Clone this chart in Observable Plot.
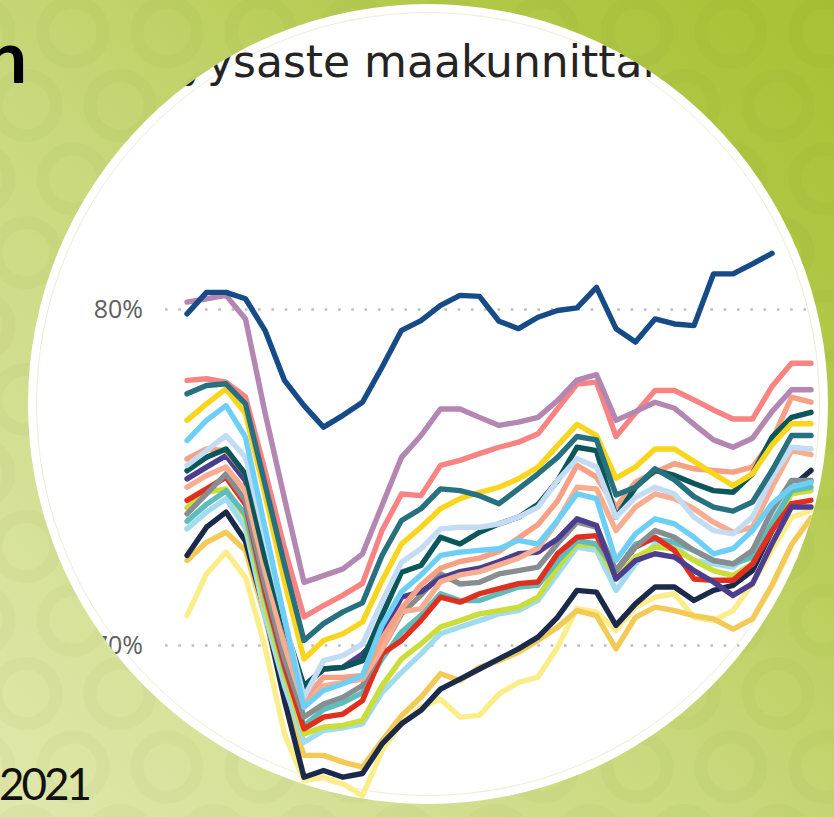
<!DOCTYPE html>
<html>
<head>
<meta charset="utf-8">
<script src="https://cdn.jsdelivr.net/npm/d3@7"></script>
<script src="https://cdn.jsdelivr.net/npm/@observablehq/plot@0.6"></script>
<style>
  html, body { margin: 0; padding: 0; width: 834px; height: 817px; overflow: hidden; }
  body {
    position: relative;
    background-color: #c6d676;
    background-image:
      radial-gradient(circle at center, transparent 0 23px, rgba(95,115,20,0.045) 24px 36px, transparent 37px),
      radial-gradient(circle at center, transparent 0 23px, rgba(95,115,20,0.045) 24px 36px, transparent 37px),
      linear-gradient(45deg, #e0e8ad 0%, #c9d87c 45%, #b3c94a 75%, #a8c035 100%);
    background-size: 94px 147px, 94px 147px, 100% 100%;
    background-position: 26px -41.5px, 73px 32px, 0 0;
  }
  #disc {
    position: absolute; left: 0; top: 0; width: 834px; height: 880px;
    background: #ffffff;
    clip-path: circle(400px at 428px 404px);
  }
  #rim {
    position: absolute; left: 36px; top: 12px; width: 784px; height: 784px;
    border-radius: 50%; border: 1px solid rgba(215,205,150,0.4); box-sizing: border-box;
  }
  #chart { position: absolute; left: 0; top: 0; }
  #title {
    position: absolute; top: 40px; left: 0;
    font-family: "DejaVu Sans", sans-serif; font-size: 44px; line-height: 44px;
    color: #252423; white-space: nowrap;
  }
  #slideTitle {
    position: absolute; top: 19px; left: -14px;
    font-family: Lato, sans-serif; font-weight: 700; font-size: 73px; line-height: 73px;
    color: #000; white-space: nowrap;
  }
  #slideYear {
    position: absolute; top: 761px; left: -1px;
    font-family: Lato, sans-serif; font-size: 44px; line-height: 44px; letter-spacing: -3px;
    color: #111; white-space: nowrap;
  }
</style>
</head>
<body>
<div id="slideTitle">n</div>
<div id="slideYear">2021</div>
<div id="disc">
  <div id="rim"></div>
  <div id="chart"></div>
  <div id="title"><span id="titlePre">Työllisyy</span><span>saste maakunnittain</span></div>
</div>
<script>
// Years on the x axis
const years = [1989,1990,1991,1992,1993,1994,1995,1996,1997,1998,1999,2000,2001,2002,2003,2004,2005,2006,2007,2008,2009,2010,2011,2012,2013,2014,2015,2016,2017,2018,2019,2020,2021];

// Y axis tick values (%)
const yTicks = [70, 80];

// Employment rate series (%), one array per region
const kainuu = [70.89,72.13,72.78,72.03,69.95,67.37,65.98,66.08,65.88,65.53,66.87,67.67,68.16,68.4,67.87,67.92,68.56,68.9,69.06,69.95,71.1,71.0,70.45,71.14,71.44,71.54,70.84,70.74,71.04,71.84,72.83,73.82,74.02];
const lappi = [72.53,73.07,73.37,72.83,70.84,68.46,66.73,66.73,66.53,66.38,67.17,67.91,68.46,69.16,68.96,69.35,69.55,69.8,70.15,70.54,71.04,70.89,69.9,70.84,71.14,71.04,70.89,70.79,70.49,70.79,71.8,73.0,73.8];
const pohjoisKarjala = [72.68,73.52,73.97,73.1,71.0,68.36,66.08,66.28,66.08,66.19,67.07,67.67,68.07,68.7,69.0,69.3,69.6,69.9,70.25,70.84,71.64,71.59,70.6,71.24,71.74,71.74,71.34,71.64,71.79,72.23,73.42,74.71,75.21];
const etelaKarjala = [73.47,73.97,74.37,73.5,70.9,68.8,67.12,67.47,67.55,67.67,68.6,69.2,69.75,70.35,70.55,70.74,70.94,71.04,71.34,72.13,72.93,72.83,71.64,72.43,73.02,72.93,72.53,72.43,72.33,72.83,73.82,74.76,74.81];
const pohjoisSavo = [74.1,74.56,74.66,73.8,71.2,69.1,67.37,67.57,67.62,67.77,68.8,69.6,70.05,70.55,70.74,70.94,71.04,71.14,71.44,72.33,73.02,72.97,72.03,72.63,72.93,72.88,72.53,72.23,72.08,72.43,73.52,74.51,74.61];
const kymenlaakso = [73.7,74.2,74.6,73.9,71.5,69.3,67.6,68.1,68.3,68.6,69.6,70.4,70.9,71.54,71.34,71.34,71.54,71.74,71.79,72.5,73.12,73.02,72.23,73.02,73.17,73.07,72.83,72.53,72.43,72.63,73.62,74.61,74.71];
const etelaSavo = [74.32,74.66,75.01,74.2,71.6,69.4,67.52,67.87,67.96,68.36,69.75,70.15,70.75,71.44,71.29,71.54,71.69,71.84,71.89,72.73,73.22,73.27,72.23,72.93,73.22,72.83,71.98,71.94,71.94,72.43,73.42,74.22,74.32];
const pohjoisPohjanmaa = [73.92,74.51,75.11,74.3,71.8,69.6,67.87,68.26,68.46,68.81,69.9,70.94,71.5,72.13,71.83,71.88,72.13,72.23,72.33,73.03,73.67,73.52,72.23,72.93,73.42,73.22,72.83,72.53,72.43,72.83,74.02,74.91,74.91];
const keskiSuomi = [74.96,75.31,75.65,74.9,72.3,70.4,68.76,69.30,69.35,69.75,70.35,71.44,71.6,72.0,72.2,72.3,72.5,72.73,72.78,73.17,73.77,73.57,71.98,72.53,72.73,72.63,72.23,71.89,71.49,71.84,73.03,74.12,74.12];
const paijatHame = [74.71,75.06,75.31,74.6,72.2,70.0,68.2,68.8,68.9,69.0,69.9,71.0,71.1,71.9,72.1,72.2,72.4,72.6,72.9,73.7,74.71,74.66,73.42,74.12,74.51,74.37,74.07,73.67,73.37,73.52,74.71,75.80,75.68];
const satakunta = [75.55,75.85,75.8,75.1,72.8,70.5,68.4,69.05,69.05,69.11,70.2,71.1,71.8,72.3,72.5,72.6,72.8,73.2,73.6,74.3,75.36,75.01,74.12,74.86,75.16,75.41,75.26,75.21,75.16,75.31,76.10,77.39,77.24];
const etelaPohjanmaa = [75.2,75.6,75.85,75.1,72.6,70.6,68.8,69.30,69.35,69.55,70.9,72.18,72.38,73.22,73.02,73.37,73.62,73.82,74.2,74.9,75.9,75.8,73.82,74.71,75.21,75.06,74.82,74.61,74.56,75.11,76.20,76.79,76.94];
const kantaHame = [75.36,75.80,76.25,75.6,73.2,70.8,68.46,69.55,69.70,70.05,71.3,72.48,72.88,73.47,73.52,73.52,73.62,73.82,74.12,74.91,75.56,75.31,73.82,74.41,74.71,74.51,73.82,73.42,73.32,73.82,75.01,75.90,75.85];
const pirkanmaa = [76.10,76.70,77.14,76.2,73.5,70.8,68.16,68.66,68.86,69.11,70.6,71.6,72.1,72.68,72.78,72.83,72.88,73.13,73.02,73.72,74.51,74.37,72.53,73.32,73.77,73.62,73.22,72.73,72.88,73.42,74.22,74.71,74.86];
const keskiPohjanmaa = [76.70,77.19,77.64,76.9,74.5,71.9,69.60,70.15,70.35,70.70,71.93,73.02,73.52,74.07,74.37,74.56,74.71,74.96,75.31,75.95,76.58,76.25,74.98,75.31,75.85,75.85,75.48,75.11,74.76,75.11,75.97,76.60,76.60];
const pohjanmaa = [77.89,77.94,77.84,77.4,75.2,72.9,70.85,71.19,71.5,71.85,73.42,74.51,74.46,75.36,75.51,75.71,75.90,76.05,76.30,77.04,77.78,77.84,76.22,76.92,77.59,77.59,77.31,77.01,76.74,76.74,77.71,78.4,78.4];
const varsinaisSuomi = [77.49,77.74,77.79,77.19,74.8,72.4,70.15,70.65,71.0,71.27,72.68,73.72,74.07,74.66,74.61,74.46,74.22,74.66,75.11,75.60,76.22,76.12,74.48,74.71,75.26,74.93,74.43,74.12,74.0,74.27,75.21,76.25,76.25];
const uusimaa = [80.22,80.32,80.42,79.72,76.93,74.37,71.88,72.08,72.28,72.73,74.17,75.60,76.25,77.04,77.04,76.79,76.55,76.65,76.79,77.29,77.9,78.06,76.70,76.96,77.24,77.06,76.58,76.12,75.90,76.17,76.96,77.61,77.61];
const ahvenanmaa = [79.87,80.51,80.51,80.32,79.38,77.89,77.14,76.50,76.85,77.24,78.28,79.38,79.67,80.12,80.42,80.39,79.65,79.43,79.77,79.97,80.05,80.66,79.43,79.03,79.72,79.57,79.52,81.06,81.06,81.36,81.67];

// Region names (drawing order, first = bottom layer) and their colours
const regions = ["Kainuu","Lappi","Pohjois-Karjala","Etelä-Karjala","Pohjois-Savo","Kymenlaakso","Etelä-Savo","Pohjois-Pohjanmaa","Keski-Suomi","Päijät-Häme","Satakunta","Etelä-Pohjanmaa","Kanta-Häme","Pirkanmaa","Keski-Pohjanmaa","Pohjanmaa","Varsinais-Suomi","Uusimaa","Ahvenanmaa"];
const colors = ["#fbee8a","#f2ca55","#1b2a4b","#a0dbef","#cbdd39","#5fbcbc","#e02f1f","#868e91","#4b3e8f","#f8ad90","#f6a184","#0b5658","#c3dcf3","#6dcff6","#f9d51b","#f98383","#27707f","#b387b1","#174b87"];
const seriesValues = [kainuu,lappi,pohjoisKarjala,etelaKarjala,pohjoisSavo,kymenlaakso,etelaSavo,pohjoisPohjanmaa,keskiSuomi,paijatHame,satakunta,etelaPohjanmaa,kantaHame,pirkanmaa,keskiPohjanmaa,pohjanmaa,varsinaisSuomi,uusimaa,ahvenanmaa];

const table = regions.flatMap((region, k) => seriesValues[k].map((value, i) => ({region, year: years[i], value})));

const W = 834, H = 880;
const xLeft = 186.5, xStep = 19.5;
const xRight = xLeft + xStep * (years.length - 1);
const yDomain = [64, 84];
const y80 = 309, pxPerPt = 33.6;
const plotTop = y80 - (yDomain[1] - 80) * pxPerPt;
const plotBottom = y80 + (80 - yDomain[0]) * pxPerPt;

const chart = Plot.plot({
  width: W,
  height: H,
  marginLeft: xLeft,
  marginRight: W - xRight,
  marginTop: plotTop,
  marginBottom: H - plotBottom,
  x: {domain: [years[0], years[years.length - 1]], axis: null},
  y: {domain: yDomain, ticks: yTicks, tickFormat: d => d + "%", tickSize: 0, tickPadding: 44, label: null},
  color: {domain: regions, range: colors},
  style: {background: "transparent", fontFamily: "'Open Sans', sans-serif", fontSize: "25px", color: "#5f5e5c", overflow: "visible"},
  marks: [
    Plot.ruleY(yTicks, {x1: years[0] - 1.1, x2: years[years.length - 1] + 1, stroke: "#bdbdbd", strokeWidth: 2.6, strokeDasharray: "2.6 10.7"}),
    Plot.line(table, {x: "year", y: "value", z: "region", stroke: "region", strokeWidth: 5.4, strokeLinejoin: "round", strokeLinecap: "round"})
  ]
});
document.getElementById("chart").appendChild(chart);

// place the title so that "saste" starts at x = 233
const pre = document.getElementById("titlePre");
document.getElementById("title").style.left = (233 - pre.getBoundingClientRect().width) + "px";
</script>
</body>
</html>
